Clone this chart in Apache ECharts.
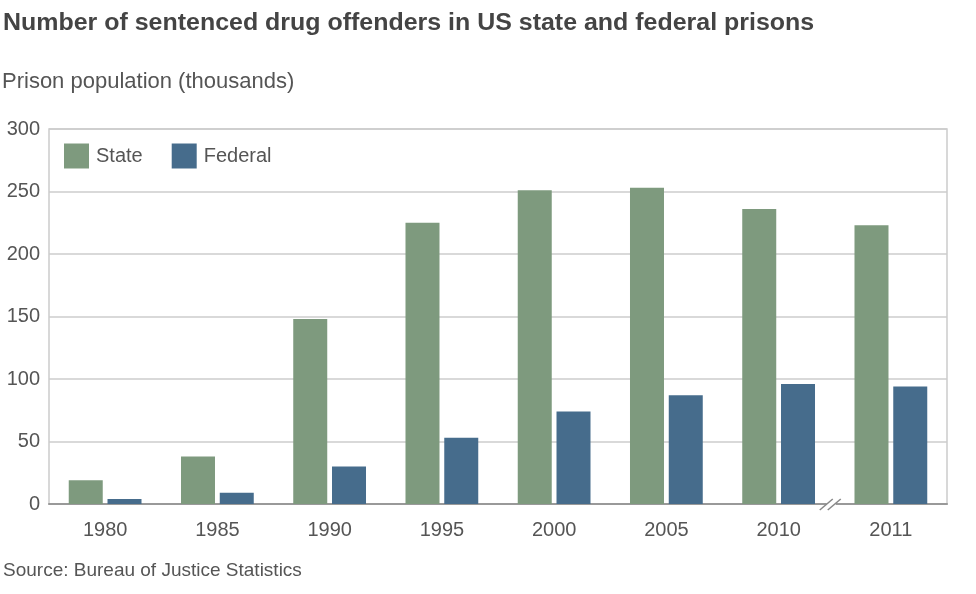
<!DOCTYPE html>
<html>
<head>
<meta charset="utf-8">
<script src="https://cdn.jsdelivr.net/npm/echarts@6/dist/echarts.min.js"></script>
<style>html,body{margin:0;padding:0;background:#fff;}#c{width:976px;height:594px;}</style>
</head>
<body>
<div id="c"></div>
<script>
const categories = ['1980','1985','1990','1995','2000','2005','2010','2011'];
const stateValues = [19, 38, 148, 225, 251, 253, 236, 223];
const federalValues = [4, 9, 30, 53, 74, 87, 96, 94];
const yTicks = [0, 50, 100, 150, 200, 250, 300];

const FONT = '"Liberation Sans", Arial, Helvetica, sans-serif';
const chart = echarts.init(document.getElementById('c'), null, {renderer: 'canvas'});
const option = {
  animation: false,
  backgroundColor: '#fff',
  textStyle: {fontFamily: FONT},
  legend: {
    left: 59, top: 138.5, itemWidth: 25, itemHeight: 25, itemGap: 29,
    icon: 'rect',
    textStyle: {fontFamily: FONT, fontSize: 20, color: '#555', padding: [0, 0, 0, 2]},
    data: ['State', 'Federal']
  },
  grid: {left: 49, right: 29, top: 129, bottom: 90, show: true, borderColor: '#ccc', borderWidth: 1.5},
  xAxis: {
    type: 'category', data: categories,
    axisLine: {lineStyle: {color: '#999', width: 2}},
    axisTick: {show: false},
    axisLabel: {fontFamily: FONT, fontSize: 20, color: '#555', margin: 16}
  },
  yAxis: {
    type: 'value', min: 0, max: 300, interval: 50,
    axisLine: {show: false}, axisTick: {show: false},
    axisLabel: {fontFamily: FONT, fontSize: 20, color: '#555', margin: 9,
      formatter: v => yTicks.includes(v) ? String(v) : ''},
    splitLine: {lineStyle: {color: '#ccc', width: 1.5}}
  },
  series: [
    {name: 'State', type: 'bar', data: stateValues, itemStyle: {color: '#7e9a7e'},
     barWidth: 34, barGap: '14%'},
    {name: 'Federal', type: 'bar', data: federalValues, itemStyle: {color: '#466c8c'},
     barWidth: 34, barGap: '14%'}
  ]
};
chart.setOption(option);

// axis break marker between the last two categories
const p6 = chart.convertToPixel({xAxisIndex: 0}, categories[6]);
const p7 = chart.convertToPixel({xAxisIndex: 0}, categories[7]);
const y0 = chart.convertToPixel({yAxisIndex: 0}, 0);
const bx = (p6 + p7) / 2 - 4;
chart.setOption({
  graphic: [
    {type: 'text', x: 3, y: 23.5, scaleX: 1.085,
     style: {text: 'Number of sentenced drug offenders in US state and federal prisons',
             font: 'bold 23px ' + FONT, fill: '#444', align: 'left', verticalAlign: 'middle'}},
    {type: 'text', x: 2, y: 82,
     style: {text: 'Prison population (thousands)',
             font: '22px ' + FONT, fill: '#555', align: 'left', verticalAlign: 'middle'}},
    {type: 'text', x: 3, y: 571,
     style: {text: 'Source: Bureau of Justice Statistics',
             font: '19px ' + FONT, fill: '#555', align: 'left', verticalAlign: 'middle'}},
    {type: 'rect', shape: {x: bx - 4, y: y0 - 3, width: 9, height: 6}, style: {fill: '#fff'}, z: 100},
    {type: 'line', shape: {x1: bx - 11, y1: y0 + 6, x2: bx + 2, y2: y0 - 5}, style: {stroke: '#888', lineWidth: 1.5}, z: 101},
    {type: 'line', shape: {x1: bx - 3, y1: y0 + 6, x2: bx + 10, y2: y0 - 5}, style: {stroke: '#888', lineWidth: 1.5}, z: 101}
  ]
});
</script>
</body>
</html>
